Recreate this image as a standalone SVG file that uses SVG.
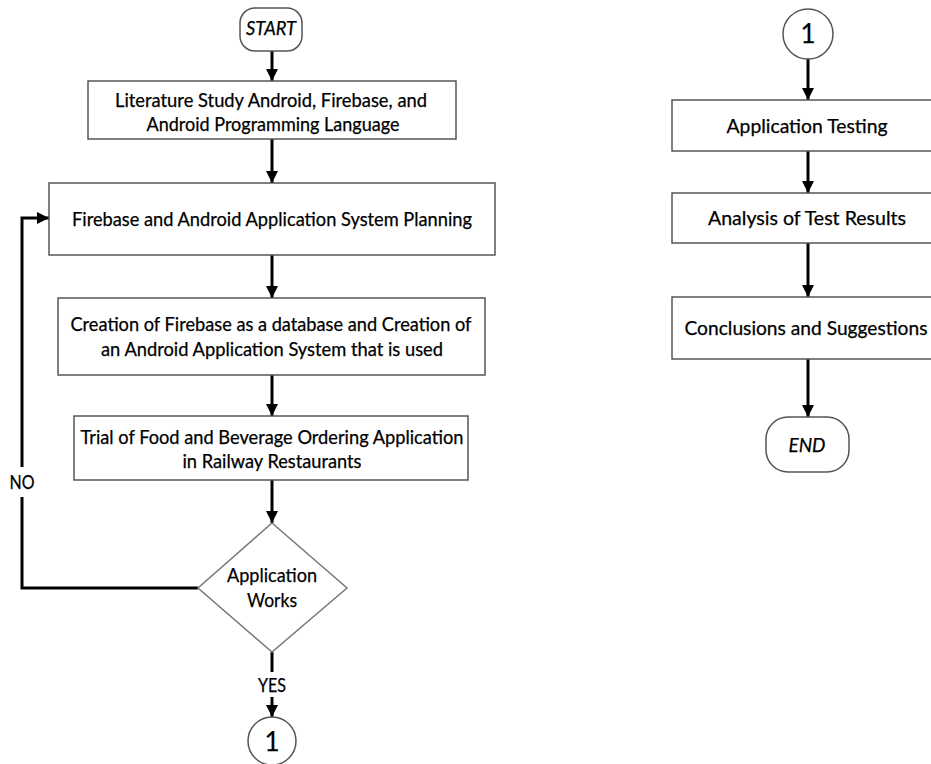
<svg xmlns="http://www.w3.org/2000/svg" width="931" height="764" viewBox="0 0 931 764">
<defs>
<marker id="ah" markerUnits="userSpaceOnUse" markerWidth="12" markerHeight="12" refX="12" refY="6" orient="auto">
<path d="M0,0 L12,6 L0,12 z" fill="#000"/>
</marker>
<style>
.box{fill:#fff;stroke:#555;stroke-width:1.5}
.dia{fill:#fff;stroke:#777;stroke-width:1.5}
.con{fill:none;stroke:#000;stroke-width:3}
.t{font-family:Lato,"Open Sans","Liberation Sans",sans-serif;font-size:19px;fill:#000;stroke:#000;stroke-width:0.25;text-anchor:middle}
.i{font-style:italic}
.n{font-size:26px}
</style>
</defs>
<rect width="931" height="764" fill="#fff"/>
<g id="connectors">
<line class="con" x1="272" y1="51" x2="272" y2="81" marker-end="url(#ah)"/>
<line class="con" x1="272" y1="139" x2="272" y2="183" marker-end="url(#ah)"/>
<line class="con" x1="272" y1="255" x2="272" y2="298" marker-end="url(#ah)"/>
<line class="con" x1="272" y1="375" x2="272" y2="416" marker-end="url(#ah)"/>
<line class="con" x1="272" y1="480" x2="272" y2="523" marker-end="url(#ah)"/>
<line class="con" x1="272" y1="652" x2="272" y2="672"/>
<line class="con" x1="272" y1="697" x2="272" y2="717" marker-end="url(#ah)"/>
<polyline class="con" points="198,588 22,588 22,497"/>
<polyline class="con" points="22,467 22,218 49,218" marker-end="url(#ah)"/>
<line class="con" x1="808" y1="59" x2="808" y2="100" marker-end="url(#ah)"/>
<line class="con" x1="808" y1="151" x2="808" y2="193" marker-end="url(#ah)"/>
<line class="con" x1="808" y1="243" x2="808" y2="297" marker-end="url(#ah)"/>
<line class="con" x1="808" y1="359" x2="808" y2="417" marker-end="url(#ah)"/>
<text class="t" x="272" y="692" textLength="28" lengthAdjust="spacingAndGlyphs">YES</text>
<text class="t" x="22" y="489" textLength="25" lengthAdjust="spacingAndGlyphs">NO</text>
</g>
<g id="start">
<rect class="box" x="240" y="8" width="62" height="43" rx="15"/>
<text class="t i" x="271" y="35" textLength="50" lengthAdjust="spacingAndGlyphs">START</text>
</g>
<g id="literature">
<rect class="box" x="88" y="81" width="368" height="58"/>
<text class="t" x="271" y="107" textLength="312" lengthAdjust="spacingAndGlyphs">Literature Study Android, Firebase, and</text>
<text class="t" x="273" y="131" textLength="253" lengthAdjust="spacingAndGlyphs">Android Programming Language</text>
</g>
<g id="planning">
<rect class="box" x="49" y="183" width="446" height="72"/>
<text class="t" x="272" y="226" textLength="400" lengthAdjust="spacingAndGlyphs">Firebase and Android Application System Planning</text>
</g>
<g id="creation">
<rect class="box" x="58" y="298" width="427" height="77"/>
<text class="t" x="271" y="331" textLength="401" lengthAdjust="spacingAndGlyphs">Creation of Firebase as a database and Creation of</text>
<text class="t" x="272" y="356" textLength="342" lengthAdjust="spacingAndGlyphs">an Android Application System that is used</text>
</g>
<g id="trial">
<rect class="box" x="74" y="416" width="394" height="64"/>
<text class="t" x="272" y="444" textLength="383" lengthAdjust="spacingAndGlyphs">Trial of Food and Beverage Ordering Application</text>
<text class="t" x="272" y="468" textLength="179" lengthAdjust="spacingAndGlyphs">in Railway Restaurants</text>
</g>
<g id="decision">
<polygon class="dia" points="272,523 347,588 272,652 198,588"/>
<text class="t" x="272" y="582" textLength="90" lengthAdjust="spacingAndGlyphs">Application</text>
<text class="t" x="272" y="607" textLength="50" lengthAdjust="spacingAndGlyphs">Works</text>
</g>
<g id="connector-out">
<circle class="box" cx="272" cy="741" r="24"/>
<text class="t n" x="272" y="751">1</text>
</g>
<g id="connector-in">
<circle class="box" cx="808" cy="34" r="25"/>
<text class="t n" x="808" y="43">1</text>
</g>
<g id="testing">
<rect class="box" x="672" y="100" width="272" height="51"/>
<text class="t" x="807" y="133" textLength="161" lengthAdjust="spacingAndGlyphs">Application Testing</text>
</g>
<g id="analysis">
<rect class="box" x="672" y="193" width="272" height="50"/>
<text class="t" x="807" y="225" textLength="198" lengthAdjust="spacingAndGlyphs">Analysis of Test Results</text>
</g>
<g id="conclusions">
<rect class="box" x="672" y="297" width="272" height="62"/>
<text class="t" x="806" y="335" textLength="243" lengthAdjust="spacingAndGlyphs">Conclusions and Suggestions</text>
</g>
<g id="end">
<rect class="box" x="766" y="417" width="83" height="55" rx="22"/>
<text class="t i" x="807" y="452" textLength="37" lengthAdjust="spacingAndGlyphs">END</text>
</g>
</svg>
